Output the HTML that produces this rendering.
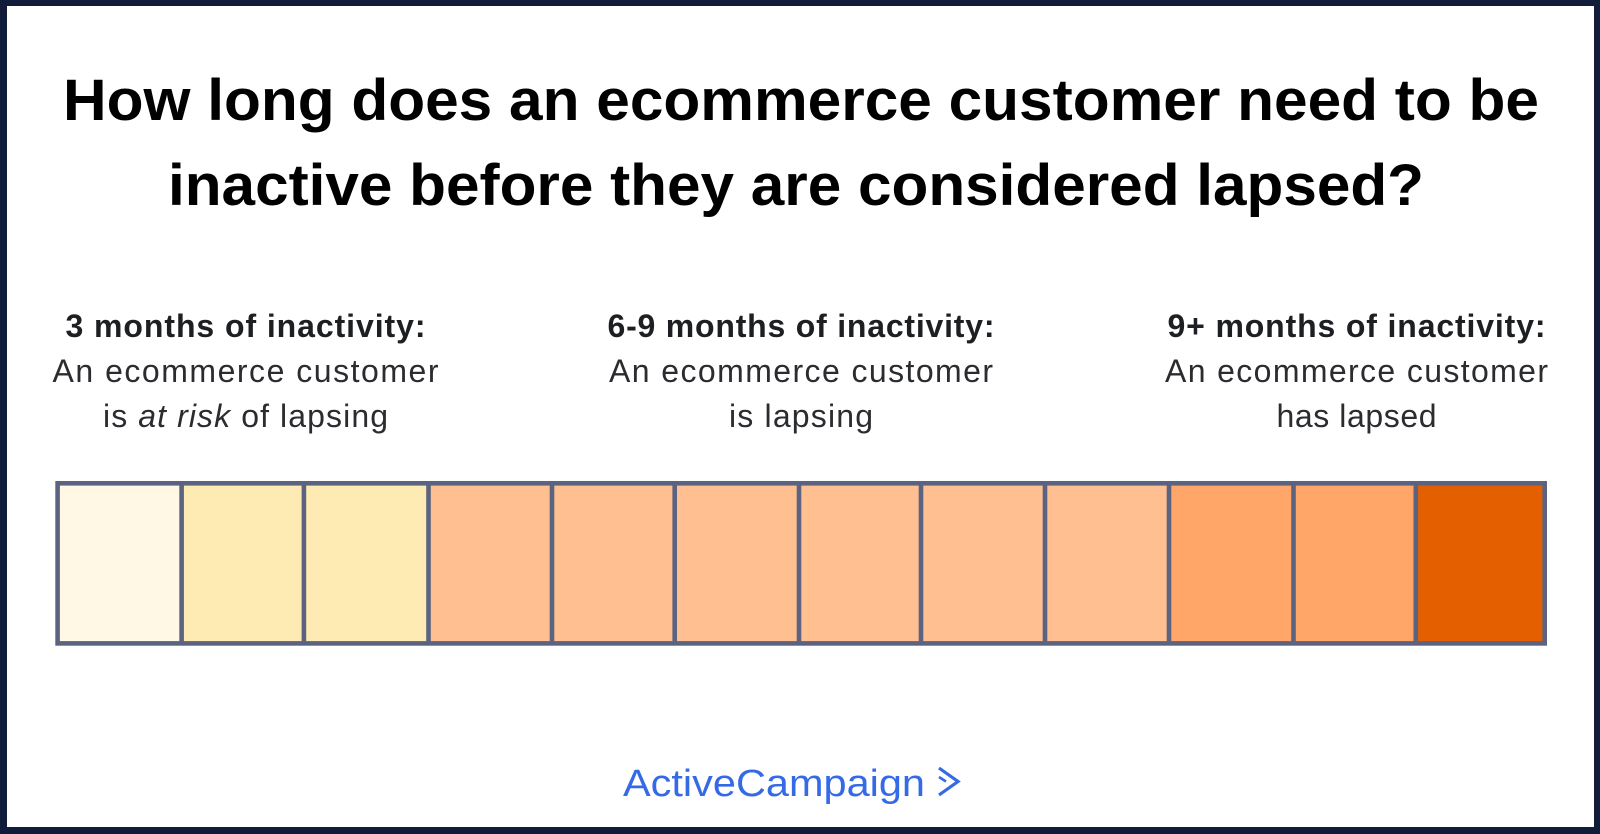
<!DOCTYPE html>
<html>
<head>
<meta charset="utf-8">
<style>
  html, body { margin: 0; padding: 0; background: #ffffff; }
  body { width: 1600px; height: 834px; overflow: hidden; }
  svg { display: block; }
</style>
</head>
<body>
<svg width="1600" height="834" viewBox="0 0 1600 834" xmlns="http://www.w3.org/2000/svg">
  <!-- outer frame -->
  <rect x="0" y="0" width="1600" height="834" fill="#111c3b"/>
  <rect x="7" y="6" width="1587" height="821" fill="#ffffff"/>

  <!-- title -->
  <g font-family="'Liberation Sans', Arial, sans-serif" font-weight="700" font-size="58" fill="#000000" text-anchor="middle">
    <text x="801" y="120" textLength="1476" lengthAdjust="spacingAndGlyphs">How long does an ecommerce customer need to be</text>
    <text x="796" y="205" textLength="1256" lengthAdjust="spacingAndGlyphs">inactive before they are considered lapsed?</text>
  </g>

  <!-- column headings -->
  <g font-family="'Liberation Sans', Arial, sans-serif" font-size="32" text-anchor="middle">
    <text x="245.5" y="337" font-weight="700" fill="#1d1f22" textLength="360">3 months of inactivity:</text>
    <text x="245.5" y="382" fill="#2a2c2f" textLength="386">An ecommerce customer</text>
    <text x="245.5" y="427" fill="#2a2c2f" textLength="285">is <tspan font-style="italic">at risk</tspan> of lapsing</text>

    <text x="801" y="337" font-weight="700" fill="#1d1f22" textLength="387">6-9 months of inactivity:</text>
    <text x="801" y="382" fill="#2a2c2f" textLength="384">An ecommerce customer</text>
    <text x="801" y="427" fill="#2a2c2f" textLength="144">is lapsing</text>

    <text x="1356.5" y="337" font-weight="700" fill="#1d1f22" textLength="378">9+ months of inactivity:</text>
    <text x="1356.5" y="382" fill="#2a2c2f" textLength="383">An ecommerce customer</text>
    <text x="1356.5" y="427" fill="#2a2c2f" textLength="160">has lapsed</text>
  </g>

  <!-- bar cells -->
  <g>
    <rect x="57.6" y="483.3" width="124" height="160.1" fill="#fff8e5"/>
    <rect x="181.6" y="483.3" width="122.3" height="160.1" fill="#feebb3"/>
    <rect x="303.9" y="483.3" width="124.6" height="160.1" fill="#feebb3"/>
    <rect x="428.5" y="483.3" width="123.5" height="160.1" fill="#ffbf90"/>
    <rect x="552" y="483.3" width="122.7" height="160.1" fill="#ffbf90"/>
    <rect x="674.7" y="483.3" width="124.3" height="160.1" fill="#ffbf90"/>
    <rect x="799" y="483.3" width="122" height="160.1" fill="#ffbf90"/>
    <rect x="921" y="483.3" width="124" height="160.1" fill="#ffbf90"/>
    <rect x="1045" y="483.3" width="124" height="160.1" fill="#ffbf90"/>
    <rect x="1169" y="483.3" width="124.5" height="160.1" fill="#ffa668"/>
    <rect x="1293.5" y="483.3" width="122.3" height="160.1" fill="#ffa668"/>
    <rect x="1415.8" y="483.3" width="128.9" height="160.1" fill="#e45f00"/>
  </g>
  <!-- bar borders -->
  <g stroke="#5b6380" stroke-width="4.6" fill="none">
    <rect x="57.6" y="483.3" width="1487.1" height="160.1"/>
    <line x1="181.6" y1="483.3" x2="181.6" y2="643.4"/>
    <line x1="303.9" y1="483.3" x2="303.9" y2="643.4"/>
    <line x1="428.5" y1="483.3" x2="428.5" y2="643.4"/>
    <line x1="552" y1="483.3" x2="552" y2="643.4"/>
    <line x1="674.7" y1="483.3" x2="674.7" y2="643.4"/>
    <line x1="799" y1="483.3" x2="799" y2="643.4"/>
    <line x1="921" y1="483.3" x2="921" y2="643.4"/>
    <line x1="1045" y1="483.3" x2="1045" y2="643.4"/>
    <line x1="1169" y1="483.3" x2="1169" y2="643.4"/>
    <line x1="1293.5" y1="483.3" x2="1293.5" y2="643.4"/>
    <line x1="1415.8" y1="483.3" x2="1415.8" y2="643.4"/>
  </g>

  <!-- logo -->
  <text x="623" y="796" font-family="'Liberation Sans', Arial, sans-serif" font-size="38" fill="#356ae6" textLength="302" lengthAdjust="spacingAndGlyphs">ActiveCampaign</text>
  <path d="M939 768 L958 781.5 L939 795" fill="none" stroke="#356ae6" stroke-width="3.2" stroke-linejoin="miter"/>
  <path d="M939 777 L946 781.5" fill="none" stroke="#356ae6" stroke-width="2.6"/>
</svg>
</body>
</html>
